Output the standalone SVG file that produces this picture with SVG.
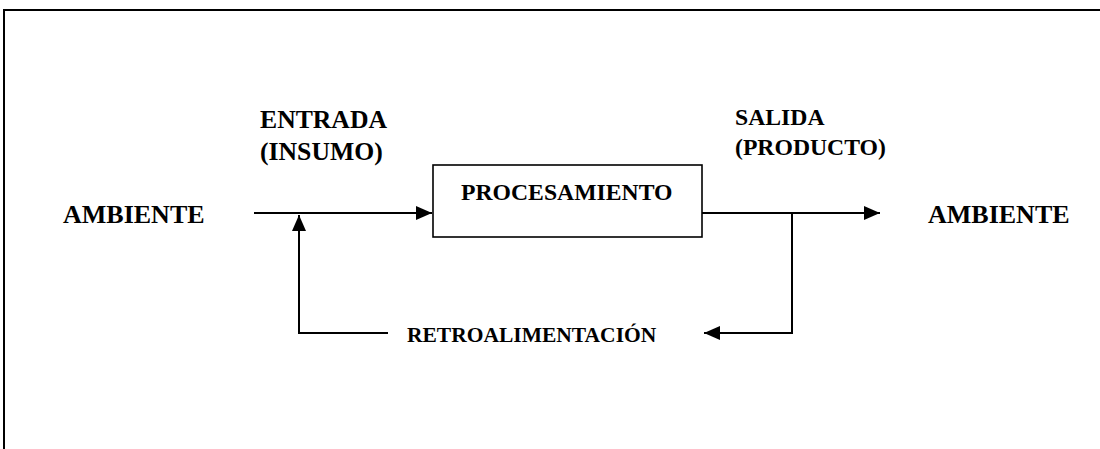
<svg xmlns="http://www.w3.org/2000/svg" width="1100" height="449" viewBox="0 0 1100 449">
<style>
.t{font-family:"Liberation Serif","Times New Roman",serif;font-weight:bold;fill:#000}
.ln{stroke:#000;stroke-width:2;fill:none}
.box{stroke:#000;stroke-width:1.6;fill:#fff}
</style>
<defs>
<marker id="ah" viewBox="0 0 16 14" markerWidth="16" markerHeight="14" refX="16" refY="7" orient="auto" markerUnits="userSpaceOnUse">
<path d="M0,0 L16,7 L0,14 z" fill="#000"/>
</marker>
</defs>
<rect width="1100" height="449" fill="#fff"/>
<g id="frame">
<path d="M4,449 V10 H1100" stroke="#000" stroke-width="2" fill="none"/>
</g>
<g id="connectors">
<line class="ln" x1="254" y1="213" x2="432" y2="213" marker-end="url(#ah)"/>
<path class="ln" d="M388,333 H299 V215" marker-end="url(#ah)"/>
<line class="ln" x1="702" y1="213" x2="880" y2="213" marker-end="url(#ah)"/>
<path class="ln" d="M792,213 V333 H704" marker-end="url(#ah)"/>
</g>
<g id="ambiente-left">
<text class="t" x="63" y="223" font-size="26">AMBIENTE</text>
</g>
<g id="entrada">
<text class="t" x="260" y="128" font-size="25.7">ENTRADA</text>
<text class="t" x="260" y="160" font-size="25.7">(INSUMO)</text>
</g>
<g id="procesamiento">
<rect class="box" x="433" y="165" width="269" height="72"/>
<text class="t" x="461" y="200" font-size="23.7">PROCESAMIENTO</text>
</g>
<g id="salida">
<text class="t" x="735" y="125" font-size="23.7">SALIDA</text>
<text class="t" x="735" y="155" font-size="23.7">(PRODUCTO)</text>
</g>
<g id="ambiente-right">
<text class="t" x="928" y="223" font-size="26">AMBIENTE</text>
</g>
<g id="retroalimentacion">
<text class="t" x="407" y="342" font-size="21.5">RETROALIMENTACIÓN</text>
</g>
</svg>
